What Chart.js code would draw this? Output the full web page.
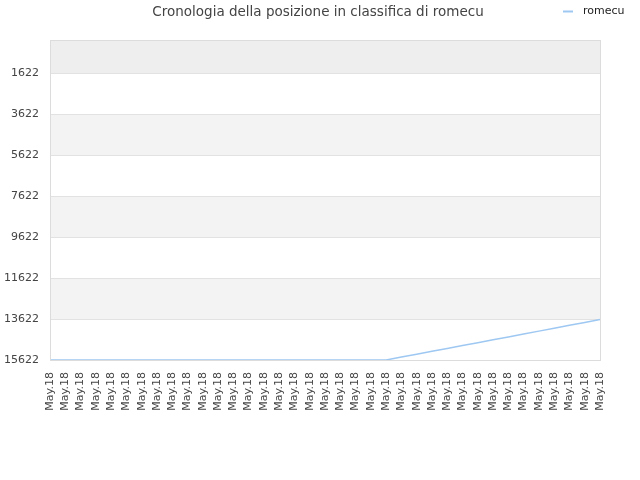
<!DOCTYPE html>
<html>
<head>
<meta charset="utf-8">
<script src="https://cdn.jsdelivr.net/npm/chart.js@4"></script>
<style>
  html, body { margin: 0; padding: 0; background: #fff; }
  #wrap { width: 640px; height: 480px; }
</style>
</head>
<body>
<div id="wrap"><canvas id="rankChart" width="640" height="480"></canvas></div>
<script>
// Chart data
var dates = [
    'May.18', 'May.18', 'May.18', 'May.18', 'May.18', 'May.18', 'May.18', 'May.18',
    'May.18', 'May.18', 'May.18', 'May.18', 'May.18', 'May.18', 'May.18', 'May.18',
    'May.18', 'May.18', 'May.18', 'May.18', 'May.18', 'May.18', 'May.18', 'May.18',
    'May.18', 'May.18', 'May.18', 'May.18', 'May.18', 'May.18', 'May.18', 'May.18',
    'May.18', 'May.18', 'May.18', 'May.18', 'May.18'
];
var positions = [
    15622, 15622, 15622, 15622, 15622, 15622, 15622, 15622,
    15622, 15622, 15622, 15622, 15622, 15622, 15622, 15622,
    15622, 15622, 15622, 15622, 15622, 15622, 15622, 15481,
    15340, 15199, 15058, 14917, 14776, 14635, 14495, 14354,
    14213, 14072, 13931, 13790, 13650
];
var yTicks = [1622, 3622, 5622, 7622, 9622, 11622, 13622, 15622];
var yMin = 12;
var yMax = 15622;

var seriesName = 'romecu';
var chartTitle = 'Cronologia della posizione in classifica di romecu';
var lineColor = '#9ec8f2';

// Alternating background bands, plot border, title and legend
var bandsPlugin = {
    id: 'bands',
    beforeDraw: function(chart) {
        var ctx = chart.ctx;
        var area = chart.chartArea;
        var y = chart.scales.y;
        ctx.save();
        var bands = [[yMin, yTicks[0], '#eeeeee']];
        for (var i = 1; i + 1 < yTicks.length; i += 2) {
            bands.push([yTicks[i], yTicks[i + 1], '#f3f3f3']);
        }
        bands.forEach(function(b) {
            var y1 = y.getPixelForValue(b[0]);
            var y2 = y.getPixelForValue(b[1]);
            ctx.fillStyle = b[2];
            ctx.fillRect(area.left, Math.min(y1, y2), area.right - area.left, Math.abs(y2 - y1));
        });
        ctx.restore();
    },
    afterDraw: function(chart) {
        var ctx = chart.ctx;
        var area = chart.chartArea;
        ctx.save();
        // plot border
        ctx.strokeStyle = '#dcdcdc';
        ctx.lineWidth = 1;
        ctx.strokeRect(area.left + 0.5, area.top + 0.5, area.right - area.left, area.bottom - area.top);
        // title
        ctx.fillStyle = '#444';
        ctx.font = '13.5px "DejaVu Sans", sans-serif';
        ctx.textBaseline = 'middle';
        ctx.textAlign = 'center';
        ctx.fillText(chartTitle, 318, 12);
        // legend at top right
        ctx.strokeStyle = lineColor;
        ctx.lineWidth = 2;
        ctx.beginPath();
        ctx.moveTo(563, 11.5);
        ctx.lineTo(573, 11.5);
        ctx.stroke();
        ctx.fillStyle = '#222';
        ctx.font = '11px "DejaVu Sans", sans-serif';
        ctx.textAlign = 'left';
        ctx.fillText(chart.data.datasets[0].label, 583, 11);
        ctx.restore();
    }
};

var ctx = document.getElementById('rankChart').getContext('2d');
var chart = new Chart(ctx, {
    type: 'line',
    data: {
        labels: dates,
        datasets: [{
            label: seriesName,
            data: positions,
            borderColor: lineColor,
            borderWidth: 1.5,
            pointRadius: 0,
            fill: false,
            tension: 0
        }]
    },
    options: {
        responsive: false,
        animation: false,
        devicePixelRatio: 1,
        layout: {
            padding: { left: 0, right: 40, top: 40, bottom: 0 }
        },
        plugins: {
            legend: { display: false },
            tooltip: { enabled: false },
            title: { display: false }
        },
        scales: {
            x: {
                type: 'category',
                offset: false,
                grid: { display: false },
                border: { display: false },
                ticks: {
                    autoSkip: false,
                    minRotation: 90,
                    maxRotation: 90,
                    color: '#444',
                    padding: 4,
                    font: { family: '"DejaVu Sans", sans-serif', size: 11 }
                },
                afterFit: function(scale) { scale.height = 120; }
            },
            y: {
                reverse: true,
                min: yMin,
                max: yMax,
                grid: { color: '#e2e2e2', drawTicks: false },
                border: { display: false },
                afterBuildTicks: function(scale) {
                    scale.ticks = yTicks.map(function(v) { return { value: v }; });
                },
                ticks: {
                    color: '#444',
                    padding: 11,
                    font: { family: '"DejaVu Sans", sans-serif', size: 11 },
                    callback: function(value) { return String(value); }
                },
                afterFit: function(scale) { scale.width = 50; }
            }
        }
    },
    plugins: [bandsPlugin]
});
</script>
</body>
</html>
